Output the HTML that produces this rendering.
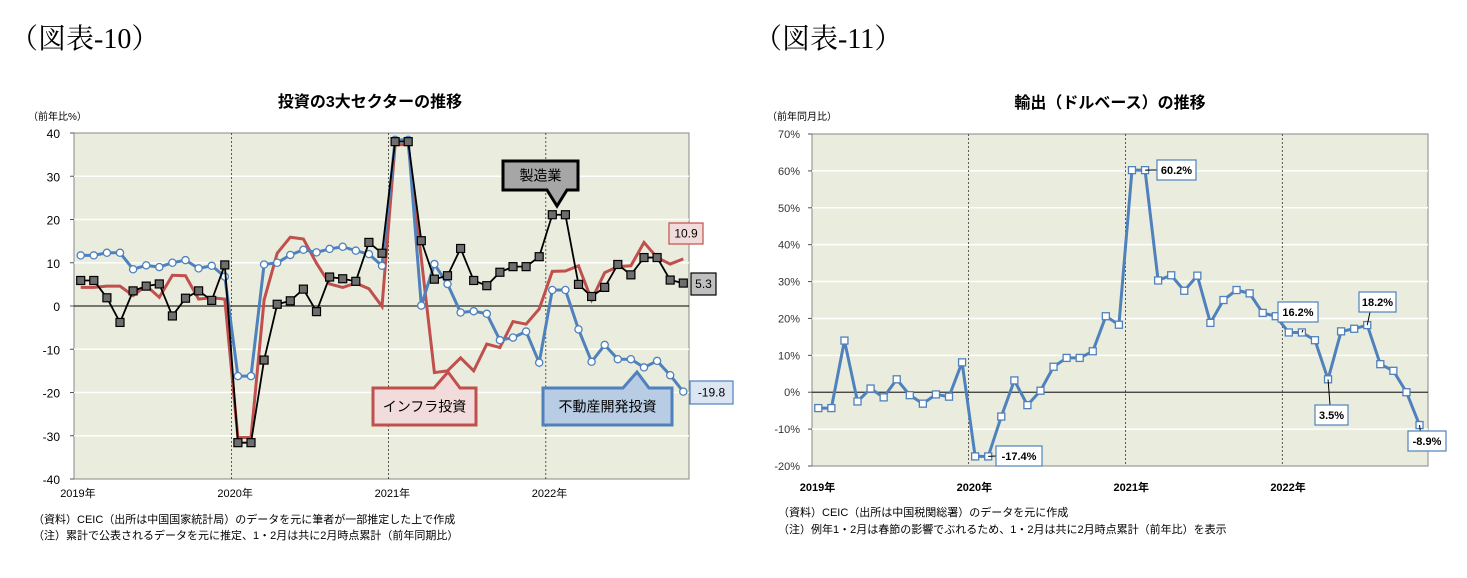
<!DOCTYPE html>
<html><head><meta charset="utf-8"><style>
body{margin:0;background:#fff;}
svg{display:block;font-family:"Liberation Sans","Noto Sans CJK JP",sans-serif;}
</style></head><body>
<svg id="svg" width="1467" height="578" viewBox="0 0 1467 578" xmlns="http://www.w3.org/2000/svg">
<text x="10" y="48" font-size="28" font-family="'Liberation Serif','Noto Serif CJK SC',serif">（図表-10）</text>
<text x="754" y="48" font-size="28" font-family="'Liberation Serif','Noto Serif CJK SC',serif">（図表-11）</text>
<g id="left"></g>
<g id="right"></g>
</svg>
<script>
const NS='http://www.w3.org/2000/svg';
// ===== Left chart data =====
const leftYTicks=[40,30,20,10,0,-10,-20,-30,-40];
const leftYearLabels=['2019年','2020年','2021年','2022年'];
const realEstate=[11.7,11.7,12.3,12.3,8.5,9.4,9.0,10.0,10.6,8.7,9.3,6.8,
 -16.2,-16.2,9.6,10.0,11.8,13.0,12.4,13.2,13.7,12.8,12.0,9.3,
 38.4,38.4,0.1,9.7,5.1,-1.5,-1.2,-1.8,-7.9,-7.3,-5.9,-13.1,
 3.7,3.7,-5.4,-12.9,-9.0,-12.3,-12.3,-14.2,-12.7,-16.0,-19.8];
const manufacturing=[5.9,5.9,1.9,-3.8,3.5,4.6,5.1,-2.3,1.8,3.5,1.3,9.5,
 -31.6,-31.6,-12.5,0.4,1.2,3.9,-1.3,6.7,6.3,5.7,14.7,12.2,
 38.0,38.0,15.1,6.2,7.0,13.3,5.9,4.7,7.8,9.1,9.1,11.4,
 21.1,21.1,5.0,2.2,4.3,9.6,7.2,11.2,11.2,6.0,5.3];
const infrastructure=[4.3,4.3,4.6,4.6,2.4,4.7,2.0,7.1,7.0,1.6,1.9,1.6,
 -30.4,-30.4,1.4,12.2,15.9,15.5,9.9,5.1,4.3,5.3,4.0,-0.1,
 37.3,37.3,11.0,-15.4,-15.0,-12.0,-15.0,-8.8,-9.6,-3.6,-4.2,-0.7,
 8.0,8.1,9.3,1.4,7.7,9.1,9.3,14.7,11.2,9.7,10.9];
// ===== Right chart data =====
const rightYTicks=[70,60,50,40,30,20,10,0,-10,-20];
const rightYearLabels=['2019年','2020年','2021年','2022年'];
const exportsYoY=[-4.3,-4.3,14.0,-2.5,1.0,-1.4,3.5,-0.8,-3.1,-0.6,-1.2,8.1,
 -17.4,-17.4,-6.6,3.2,-3.5,0.4,6.9,9.3,9.3,11.1,20.6,18.3,
 60.2,60.2,30.3,31.7,27.5,31.6,18.8,25.0,27.7,26.8,21.5,20.6,
 16.2,16.2,14.1,3.5,16.5,17.2,18.2,7.6,5.8,0.0,-8.9];

function el(parent,tag,attrs,text){const e=document.createElementNS(NS,tag);for(const k in attrs)e.setAttribute(k,attrs[k]);if(text!==undefined)e.textContent=text;parent.appendChild(e);return e;}

// ---------- LEFT ----------
(function(){
 const g=document.getElementById('left');
 const L=74,R=689,T=133,B=479,yMin=-40,yMax=40;
 const y=v=>B-(v-yMin)/(yMax-yMin)*(B-T);
 const x=i=>80.7+13.1*i;
 let e;
 e=el(g,'text',{x:370,y:107,'font-size':16,'font-weight':'bold','text-anchor':'middle'},'投資の3大セクターの推移');
 
 e=el(g,'text',{x:28,y:120,'font-size':10},'（前年比%）');
 
 e=el(g,'rect',{x:L,y:T,width:R-L,height:B-T,fill:'#eaeddd',stroke:'#888','stroke-width':1});
 
 leftYTicks.forEach(v=>{
  if(v!==yMax&&v!==yMin&&v!==0){e=el(g,'line',{x1:L,x2:R,y1:y(v),y2:y(v),stroke:'#fff','stroke-width':1.5});}
  e=el(g,'text',{x:L-14,y:y(v)+5,'font-size':12,'text-anchor':'end'},v);
  
  el(g,'line',{x1:L-4,x2:L,y1:y(v),y2:y(v),stroke:'#555'});
 });
 e=el(g,'line',{x1:L,x2:R,y1:y(0),y2:y(0),stroke:'#000','stroke-width':1});
 
 leftYearLabels.forEach((t,k)=>{
  const xx=x(12*k)-6.5;
  if(k>0){e=el(g,'line',{x1:xx,x2:xx,y1:T,y2:B,stroke:'#333','stroke-width':0.8,'stroke-dasharray':'2,2'});}
  e=el(g,'text',{x:xx-14,y:497,'font-size':11},t);
  
 });
 const pts=a=>a.map((v,i)=>x(i)+','+y(v)).join(' ');
 e=el(g,'polyline',{points:pts(infrastructure),fill:'none',stroke:'#c0504d','stroke-width':3});
 
 e=el(g,'polyline',{points:pts(realEstate),fill:'none',stroke:'#4f81bd','stroke-width':3});
 
 realEstate.forEach((v,i)=>{e=el(g,'circle',{cx:x(i),cy:y(v),r:3.6,fill:'#fff',stroke:'#4f81bd','stroke-width':1.3});});
 e=el(g,'polyline',{points:pts(manufacturing),fill:'none',stroke:'#000','stroke-width':1.8});
 
 manufacturing.forEach((v,i)=>{e=el(g,'rect',{x:x(i)-4,y:y(v)-4,width:8,height:8,fill:'#6e6e6e',stroke:'#000','stroke-width':1.2});});
 function callout(name,x1,y1,x2,y2,tx,ty,fill,stroke,text,up){
  const mid=tx;
  let d;
  if(up) d=`M${x1},${y1} L${mid-14},${y1} L${tx},${ty} L${mid+12},${y1} L${x2},${y1} L${x2},${y2} L${x1},${y2} Z`;
  else d=`M${x1},${y1} L${x2},${y1} L${x2},${y2} L${mid+10},${y2} L${tx},${ty} L${mid-10},${y2} L${x1},${y2} Z`;
  const c=el(g,'path',{d:d,fill:fill,stroke:stroke,'stroke-width':3});
  
  const t=el(g,'text',{x:(x1+x2)/2,y:(y1+y2)/2+5,'font-size':14,'text-anchor':'middle'},text);
  
 }
 callout('manufacturing',503,161,578,190,557,206,'#a6a6a6','#000','製造業',false);
 callout('infrastructure',373,388,476,425,448,372,'#f2dcdb','#c0504d','インフラ投資',true);
 callout('real-estate',543,388,672,425,637,372,'#b8cce4','#4f81bd','不動産開発投資',true);
 function lab(name,x1,y1,w,h,fill,stroke,text){
  const r=el(g,'rect',{x:x1,y:y1,width:w,height:h,fill:fill,stroke:stroke,'stroke-width':1.2});
  
  const t=el(g,'text',{x:x1+w/2,y:y1+h/2+4,'font-size':12,'text-anchor':'middle'},text);
  
 }
 lab('infrastructure-last-value',669,223,34,21,'#f2dcdb','#c0504d',infrastructure[infrastructure.length-1].toFixed(1));
 lab('manufacturing-last-value',691,273,25,22,'#bfbfbf','#000',manufacturing[manufacturing.length-1].toFixed(1));
 lab('real-estate-last-value',690,381,43,23,'#dce6f2','#4f81bd',realEstate[realEstate.length-1].toFixed(1));
 e=el(g,'text',{x:33,y:523,'font-size':11},'（資料）CEIC（出所は中国国家統計局）のデータを元に筆者が一部推定した上で作成');
 
 e=el(g,'text',{x:33,y:539,'font-size':11},'（注）累計で公表されるデータを元に推定、1・2月は共に2月時点累計（前年同期比）');
 
})();

// ---------- RIGHT ----------
(function(){
 const g=document.getElementById('right');
 const L=812,R=1428,T=134,B=466,yMin=-20,yMax=70;
 const y=v=>B-(v-yMin)/(yMax-yMin)*(B-T);
 const x=i=>818.3+13.07*i;
 let e;
 e=el(g,'text',{x:1110,y:108,'font-size':16,'font-weight':'bold','text-anchor':'middle'},'輸出（ドルベース）の推移');
 
 e=el(g,'text',{x:767,y:120,'font-size':10},'（前年同月比）');
 
 e=el(g,'rect',{x:L,y:T,width:R-L,height:B-T,fill:'#eaeddd',stroke:'#888','stroke-width':1});
 
 rightYTicks.forEach(v=>{
  if(v!==yMax&&v!==yMin&&v!==0){e=el(g,'line',{x1:L,x2:R,y1:y(v),y2:y(v),stroke:'#fff','stroke-width':1.5});}
  e=el(g,'text',{x:L-12,y:y(v)+4,'font-size':11,'text-anchor':'end',fill:'#333'},v+'%');
  
  el(g,'line',{x1:L-4,x2:L,y1:y(v),y2:y(v),stroke:'#555'});
 });
 e=el(g,'line',{x1:L,x2:R,y1:y(0),y2:y(0),stroke:'#333','stroke-width':1.2});
 
 rightYearLabels.forEach((t,k)=>{
  const xx=x(12*k)-6.5;
  if(k>0){e=el(g,'line',{x1:xx,x2:xx,y1:T,y2:B,stroke:'#333','stroke-width':0.8,'stroke-dasharray':'2,2'});}
  e=el(g,'text',{x:xx-12,y:491,'font-size':11,'font-weight':'bold'},t);
  
 });
 e=el(g,'polyline',{points:exportsYoY.map((v,i)=>x(i)+','+y(v)).join(' '),fill:'none',stroke:'#4f81bd','stroke-width':3});
 
 exportsYoY.forEach((v,i)=>{e=el(g,'rect',{x:x(i)-3.5,y:y(v)-3.5,width:7,height:7,fill:'#fff',stroke:'#4f81bd','stroke-width':1.3});});
 function lab(name,i,bx,by,w,ax,ay){
  const l=el(g,'line',{x1:x(i),y1:y(exportsYoY[i]),x2:ax,y2:ay,stroke:'#000','stroke-width':1});
  const r=el(g,'rect',{x:bx,y:by,width:w,height:20,fill:'#fff',stroke:'#4f81bd','stroke-width':1.2});
  
  const t=el(g,'text',{x:bx+w/2,y:by+14,'font-size':11,'font-weight':'bold','text-anchor':'middle'},exportsYoY[i].toFixed(1)+'%');
  
 }
 lab('label-2020-low',13,996,446,46,996,456);
 lab('label-2021-peak',25,1157,160,39,1157,170);
 lab('label-2022-jan',37,1278,302,40,1303,330);
 lab('label-2022-apr',39,1315,405,33,1330,405);
 lab('label-2022-jul',42,1359,292,37,1370,312);
 lab('label-2022-nov',46,1408,431,38,1421,436);
 e=el(g,'text',{x:778,y:516,'font-size':11},'（資料）CEIC（出所は中国税関総署）のデータを元に作成');
 
 e=el(g,'text',{x:778,y:533,'font-size':11},'（注）例年1・2月は春節の影響でぶれるため、1・2月は共に2月時点累計（前年比）を表示');
 
})();
</script>
</body></html>
